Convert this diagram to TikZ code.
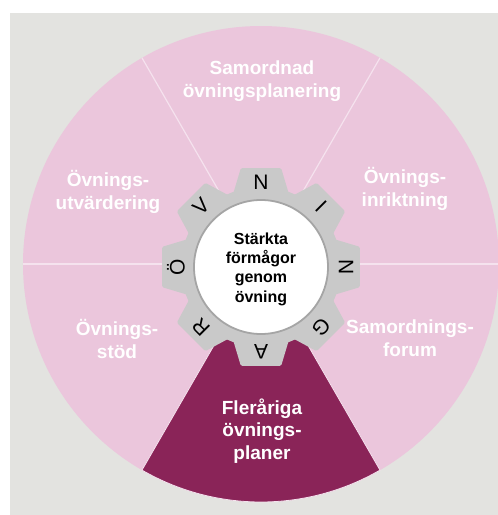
\documentclass[tikz,border=0pt]{standalone}
\usepackage{fontspec}
\setmainfont{Liberation Sans}
\definecolor{bgc}{HTML}{E3E3E0}
\definecolor{pinkc}{HTML}{EBC6DC}
\definecolor{darkc}{HTML}{8A2458}
\definecolor{linec}{HTML}{F5E2EE}
\definecolor{gearc}{HTML}{C9C9C9}
\definecolor{rimc}{HTML}{A5A5A5}
\tikzset{
  seglabel/.style={text=white, font=\fontsize{19}{22.5}\selectfont\bfseries, align=center, inner sep=0pt},
  centerlabel/.style={text=black, font=\fontsize{16}{19.3}\selectfont\bfseries, align=center, inner sep=0pt},
  gearletter/.style={text=black, font=\fontsize{21}{23}\selectfont, inner sep=0pt},
  divider/.style={draw=linec, line width=1.2pt},
}
\begin{document}
\begin{tikzpicture}[x=1pt,y=1pt]
\useasboundingbox (-261,-251) rectangle (237,264);
\fill[white] (-261,-251) rectangle (237,264);
\fill[bgc] (-251,-251) rectangle (237,251);
% wheel
\fill[pinkc] (0,0) circle (238);
\fill[darkc, draw=linec, line width=0.8pt] (0,0) -- (240:238) arc[start angle=240, end angle=300, radius=238] -- cycle;
\foreach \a/\n in {0/d0,60/d1,120/d2,180/d3}{
  \coordinate (\n i) at (\a:70);
  \coordinate (\n o) at (\a:238);
  \draw[divider] (\n i) -- (\n o);
}
% gear
\begin{scope}[shift={(0,-3)}]
  \fill[gearc] (0,0) circle (80);
  \foreach \a in {0,45,...,315}{
    \fill[gearc, rounded corners=1.5pt] (\a-21:78) -- (\a-11.5:101) -- (\a+11.5:101) -- (\a+21:78) -- cycle;
  }
  \node[circle, fill=white, draw=rimc, line width=1.8pt, minimum size=134, inner sep=0pt] (hub) at (0,0) {};
  \node[centerlabel] (core) at (0,-2) {Stärkta\\förmågor\\genom\\övning};
  \foreach \a/\l/\n in {90/N/g1,45/I/g2,0/N/g3,-45/G/g4,-90/A/g5,-135/R/g6,180/Ö/g7,135/V/g8}{
    \node[gearletter, rotate=\a-90] (\n) at (\a:85) {\l};
  }
\end{scope}
% labels
\node[seglabel] (s1) at (1,183) {Samordnad\\övningsplanering};
\node[seglabel] (s2) at (144,75) {Övnings-\\inriktning};
\node[seglabel] (s3) at (149,-74) {Samordnings-\\forum};
\node[seglabel] (s4) at (1,-167) {Fleråriga\\övnings-\\planer};
\node[seglabel] (s5) at (-144,-75) {Övnings-\\stöd};
\node[seglabel] (s6) at (-153,72) {Övnings-\\utvärdering};
\end{tikzpicture}
\end{document}
